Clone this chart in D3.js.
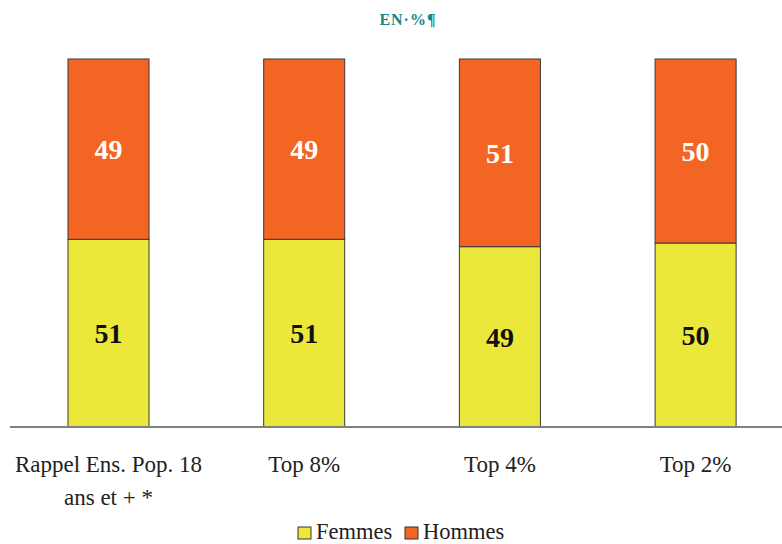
<!DOCTYPE html>
<html><head><meta charset="utf-8">
<script src="https://cdn.jsdelivr.net/npm/d3@7"></script>
<style>body{margin:0;background:#fff}svg{display:block}</style>
</head><body>
<script>
const categories = [["Rappel Ens. Pop. 18","ans et + *"],["Top 8%"],["Top 4%"],["Top 2%"]];
const femmes = [51, 51, 49, 50];
const hommes = [49, 49, 51, 50];
const seriesNames = ["Femmes", "Hommes"];
const colors = ["#ebe83b", "#f26522"];
const title = "EN·%¶";

const W = 782, H = 544;
const svg = d3.select("body").append("svg").attr("width", W).attr("height", H);
const font = "'Liberation Serif','Times New Roman',serif";

const x = d3.scaleBand().domain(d3.range(categories.length))
  .range([10.65, 793.45]).paddingInner(0.586).paddingOuter(0.293);
const y = d3.scaleLinear().domain([0, 100]).range([427, 59]);

svg.append("text").attr("x", 408).attr("y", 25).attr("text-anchor", "middle")
  .attr("font-family", font).attr("font-weight", "bold").attr("font-size", 16)
  .attr("letter-spacing", 1)
  .attr("fill", "#1a8585").text(title);

const data = categories.map((c, i) => ({i, f: femmes[i], h: hommes[i]}));
const g = svg.append("g");
data.forEach(d => {
  g.append("rect").attr("x", x(d.i)).attr("y", y(d.f)).attr("width", x.bandwidth())
    .attr("height", y(0) - y(d.f)).attr("fill", colors[0]).attr("stroke", "#3a3a3a").attr("stroke-width", 1);
  g.append("rect").attr("x", x(d.i)).attr("y", y(d.f + d.h)).attr("width", x.bandwidth())
    .attr("height", y(d.f) - y(d.f + d.h)).attr("fill", colors[1]).attr("stroke", "#3a3a3a").attr("stroke-width", 1);
  g.append("text").attr("x", x(d.i) + x.bandwidth() / 2).attr("y", (y(0) + y(d.f)) / 2)
    .attr("dy", "0.35em").attr("text-anchor", "middle").attr("font-family", font)
    .attr("font-weight", "bold").attr("font-size", 28).attr("fill", "#111").text(d.f);
  g.append("text").attr("x", x(d.i) + x.bandwidth() / 2).attr("y", (y(d.f) + y(d.f + d.h)) / 2)
    .attr("dy", "0.35em").attr("text-anchor", "middle").attr("font-family", font)
    .attr("font-weight", "bold").attr("font-size", 28).attr("fill", "#fff").text(d.h);
});

svg.append("line").attr("x1", 10).attr("x2", W).attr("y1", y(0)).attr("y2", y(0))
  .attr("stroke", "#808080").attr("stroke-width", 2);

data.forEach(d => {
  const t = svg.append("text").attr("text-anchor", "middle").attr("font-family", font)
    .attr("font-size", 23).attr("fill", "#222");
  categories[d.i].forEach((line, k) => {
    t.append("tspan").attr("x", x(d.i) + x.bandwidth() / 2).attr("y", 472 + k * 33).text(line);
  });
});

const legend = svg.append("g");
const lx = [298, 405];
seriesNames.forEach((n, i) => {
  legend.append("rect").attr("x", lx[i]).attr("y", 527).attr("width", 13).attr("height", 12)
    .attr("fill", colors[i]).attr("stroke", "#333").attr("stroke-width", 1);
  legend.append("text").attr("x", lx[i] + 18).attr("y", 539).attr("font-family", font)
    .attr("font-size", 22.5).attr("fill", "#222").text(n);
});
</script>
</body></html>
